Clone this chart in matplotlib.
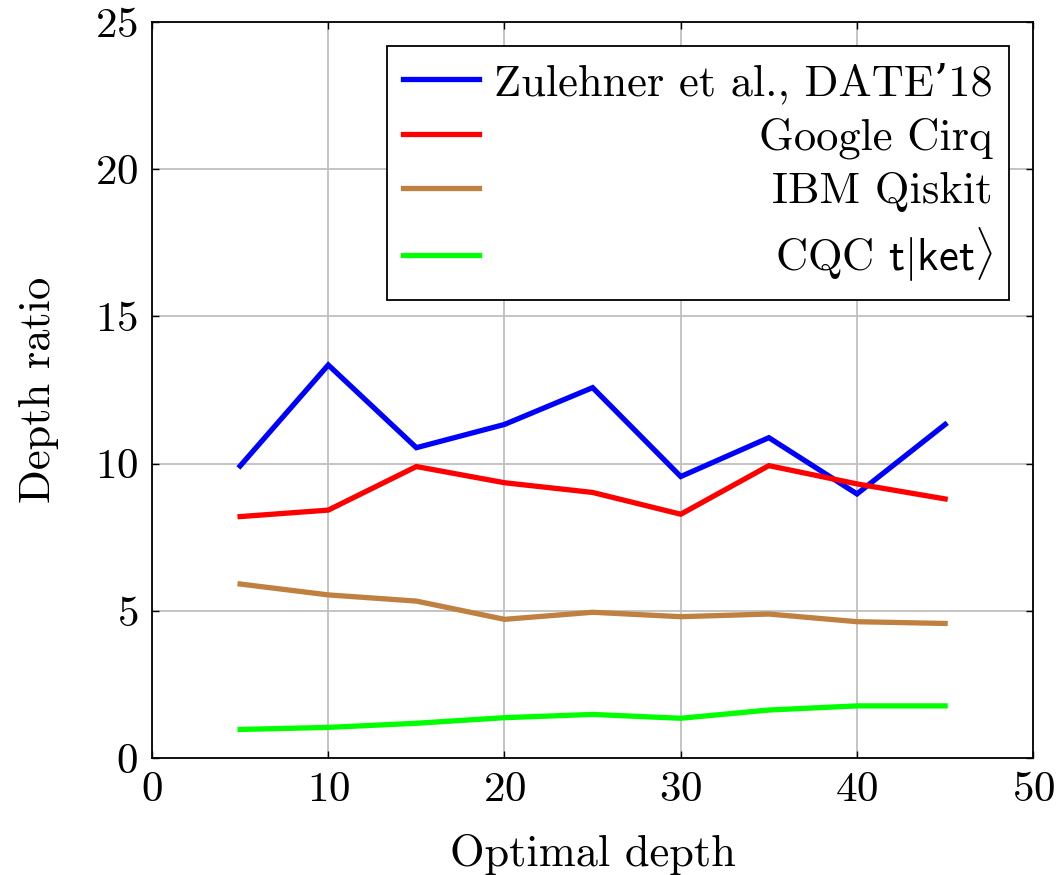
import matplotlib
matplotlib.use("Agg")
import matplotlib.pyplot as plt

x = [5, 10, 15, 20, 25, 30, 35, 40, 45]
zulehner = [9.92, 13.35, 10.54, 11.33, 12.58, 9.56, 10.88, 8.97, 11.33]
cirq = [8.2, 8.42, 9.9, 9.35, 9.02, 8.28, 9.93, 9.31, 8.8]
qiskit = [5.91, 5.54, 5.33, 4.71, 4.95, 4.8, 4.89, 4.63, 4.57]
tket = [0.97, 1.04, 1.18, 1.37, 1.48, 1.35, 1.63, 1.77, 1.77]
labels = ["Zulehner et al., DATE\u201918", "Google Cirq", "IBM Qiskit",
          r"CQC $\mathsf{t|ket}\rangle$"]
colors = ["#0000ff", "#ff0000", "#bf8040", "#00ff00"]
xticks = [0, 10, 20, 30, 40, 50]
yticks = [0, 5, 10, 15, 20, 25]

plt.rcParams['font.family'] = ['cmr10', 'DejaVu Serif']
plt.rcParams['mathtext.fontset'] = 'cm'
plt.rcParams['axes.unicode_minus'] = False
plt.rcParams['axes.formatter.use_mathtext'] = True

FS = 31
fig = plt.figure(figsize=(10.63, 8.75), dpi=100)
ax = fig.add_axes([0.143, 0.1337, 0.829, 0.8412])

for ys, lab, c in zip([zulehner, cirq, qiskit, tket], labels, colors):
    ax.plot(x, ys, color=c, lw=3.8, label=lab, solid_joinstyle='miter')

ax.set_xlim(0, 50)
ax.set_ylim(0, 25)
ax.set_xticks(xticks)
ax.set_yticks(yticks)
ax.grid(True, color='#bfbfbf', lw=1.3)
ax.set_axisbelow(True)
ax.tick_params(direction='in', top=True, right=True, length=5, width=1.0,
               labelsize=FS, pad=10)
for s in ax.spines.values():
    s.set_linewidth(1.3)
ax.set_xlabel("Optimal depth", fontsize=32, labelpad=18)
ax.set_ylabel("Depth ratio", fontsize=32, labelpad=26)

leg = ax.legend(loc='upper right', fontsize=32, frameon=True, fancybox=False,
                edgecolor='black', framealpha=1, handlelength=1.7,
                borderaxespad=0.55, labelspacing=0.3, handletextpad=0.34,
                borderpad=0.36)
leg.get_frame().set_linewidth(1.3)
fig.canvas.draw()
renderer = fig.canvas.get_renderer()
widths = [t.get_window_extent(renderer).width for t in leg.get_texts()]
W = max(widths)
for t, w in zip(leg.get_texts(), widths):
    t.set_position((W - w, 0))

fig.savefig("out.png", dpi=100)
